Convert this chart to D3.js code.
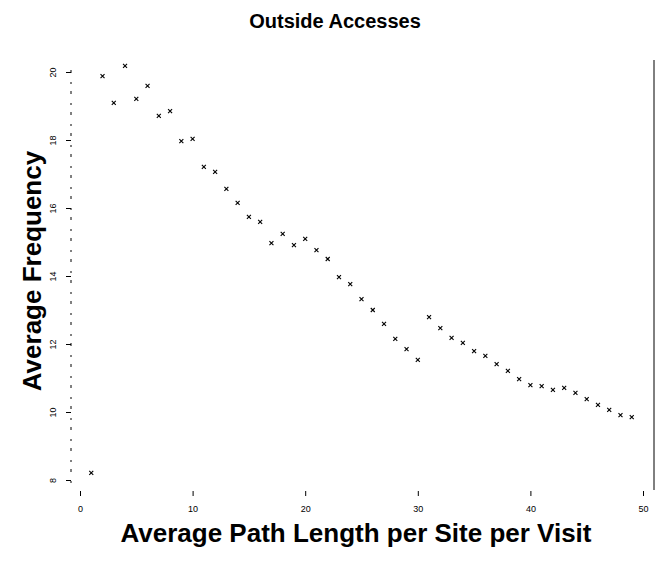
<!DOCTYPE html>
<html lang="en">
<head>
  <meta charset="UTF-8">
  <title>Outside Accesses</title>
  <style>
    body { margin: 0; background: #fff; }
    text { font-family: "Liberation Sans", Arial, sans-serif; }
    .lbl { font-weight: bold; fill: #000; }
    .tick-lbl { font-size: 9px; fill: #000; }
  </style>
</head>
<body>
  <div id="chart"></div>
  <script src="https://d3js.org/d3.v7.min.js"></script>
  <script>
    // path length per site per visit
    var pathLength = [1, 2, 3, 4, 5, 6, 7, 8, 9, 10, 11, 12, 13, 14, 15, 16, 17, 18, 19, 20,
      21, 22, 23, 24, 25, 26, 27, 28, 29, 30, 31, 32, 33, 34, 35, 36, 37, 38, 39, 40,
      41, 42, 43, 44, 45, 46, 47, 48, 49]
    // average frequency
    var avgFrequency = [8.21, 19.88, 19.09, 20.18, 19.21, 19.59, 18.71, 18.85, 17.97, 18.03,
      17.21, 17.06, 16.56, 16.15, 15.74, 15.59, 14.97, 15.24, 14.91, 15.09,
      14.76, 14.50, 13.97, 13.76, 13.32, 13.00, 12.59, 12.15, 11.85, 11.53,
      12.79, 12.47, 12.18, 12.03, 11.79, 11.65, 11.41, 11.21, 10.97, 10.79,
      10.76, 10.65, 10.71, 10.56, 10.38, 10.21, 10.06, 9.91, 9.85]
    var xTicks = [0, 10, 20, 30, 40, 50]
    var yTicks = [8, 10, 12, 14, 16, 18, 20]

    var width = 658, height = 563
    var svg = d3.select('#chart').append('svg')
      .attr('width', width)
      .attr('height', height)

    var x = d3.scaleLinear().domain([0, 50]).range([80, 643])
    var y = d3.scaleLinear().domain([8, 20]).range([480, 72])

    // y axis: broken line at left
    svg.append('line')
      .attr('x1', 71).attr('x2', 71)
      .attr('y1', 70).attr('y2', 490)
      .attr('stroke', '#000')
      .attr('stroke-dasharray', '3,9,2,7')

    var yAxis = d3.axisLeft(y).tickValues(yTicks).tickSize(5)
    var gy = svg.append('g')
      .attr('transform', 'translate(71,0)')
      .call(yAxis)
    gy.select('.domain').remove()
    gy.selectAll('.tick text')
      .attr('class', 'tick-lbl')
      .attr('x', null)
      .attr('text-anchor', 'middle')
      .attr('transform', 'translate(-18,0) rotate(-90)')
      .attr('dy', '0.35em')

    // x axis: ticks only
    var xAxis = d3.axisBottom(x).tickValues(xTicks).tickSize(5).tickPadding(10)
    var gx = svg.append('g')
      .attr('transform', 'translate(0,491)')
      .call(xAxis)
    gx.select('.domain').remove()
    gx.selectAll('.tick text').attr('class', 'tick-lbl')

    // right border line
    svg.append('line')
      .attr('x1', 654).attr('x2', 654)
      .attr('y1', 60).attr('y2', 490)
      .attr('stroke', '#000')

    // points as small crosses
    var pts = pathLength.map(function (d, i) { return [d, avgFrequency[i]] })
    svg.append('g').selectAll('path.pt')
      .data(pts)
      .enter()
      .append('path')
      .attr('class', 'pt')
      .attr('transform', function (d) { return 'translate(' + x(d[0]) + ',' + y(d[1]) + ')' })
      .attr('d', 'M-2,-2L2,2M-2,2L2,-2')
      .attr('stroke', '#000')
      .attr('stroke-width', 1.1)

    svg.append('text')
      .attr('class', 'lbl')
      .attr('x', 335).attr('y', 28)
      .attr('text-anchor', 'middle')
      .style('font-size', '20px')
      .text('Outside Accesses')

    svg.append('text')
      .attr('class', 'lbl')
      .attr('x', 356).attr('y', 542)
      .attr('text-anchor', 'middle')
      .style('font-size', '26px')
      .text('Average Path Length per Site per Visit')

    svg.append('text')
      .attr('class', 'lbl')
      .attr('transform', 'translate(41,271) rotate(-90)')
      .attr('text-anchor', 'middle')
      .style('font-size', '26px')
      .text('Average Frequency')
  </script>
</body>
</html>
